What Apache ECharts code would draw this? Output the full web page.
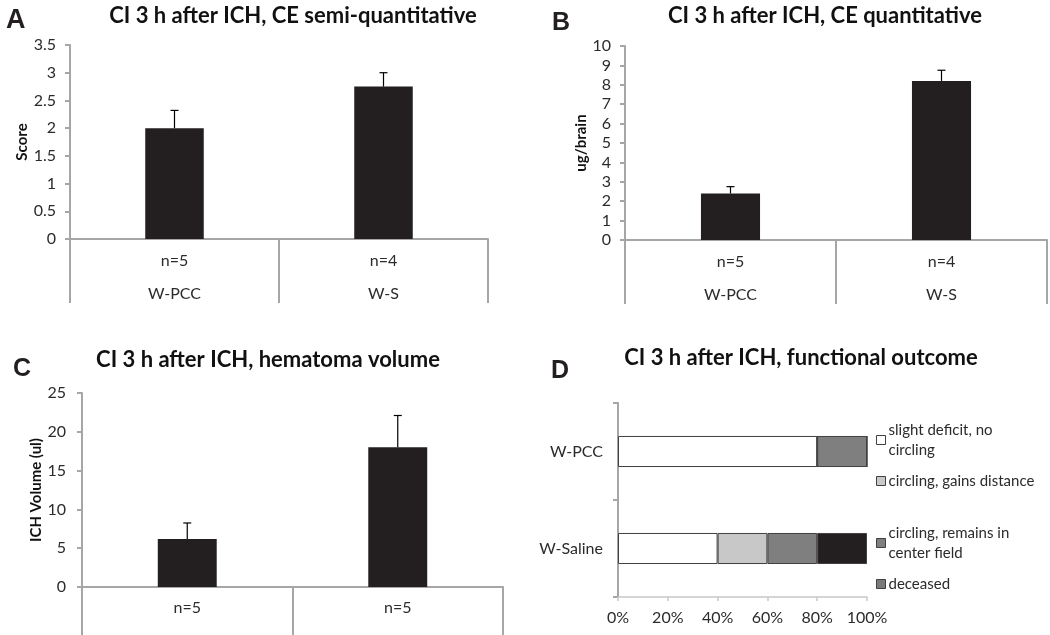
<!DOCTYPE html>
<html>
<head>
<meta charset="utf-8">
<script src="https://cdn.jsdelivr.net/npm/echarts@6/dist/echarts.min.js"></script>
<style>html,body{margin:0;padding:0;background:#fff}#c{width:1050px;height:635px}</style>
</head>
<body>
<div id="c"></div>
<script>
// ---- data ----
const groupsAB = ['W-PCC', 'W-S'];
const nAB_A = ['n=5', 'n=4'];
const nAB_B = ['n=5', 'n=4'];
const semiQuant = [2.0, 2.75];
const semiQuantErr = [0.32, 0.25];
const quant = [2.4, 8.2];
const quantErr = [0.35, 0.55];
const nC = ['n=5', 'n=5'];
const hemVol = [6.2, 18.0];
const hemVolErr = [2.05, 4.1];
const outcomeCats = ['W-PCC', 'W-Saline'];
const slightDeficit = [0.8, 0.4];
const gainsDistance = [0, 0.2];
const remainsCenter = [0.2, 0.2];
const deceased = [0, 0.2];
const yTicksA = [0, 0.5, 1, 1.5, 2, 2.5, 3, 3.5];
const yTicksB = [0, 1, 2, 3, 4, 5, 6, 7, 8, 9, 10];
const yTicksC = [0, 5, 10, 15, 20, 25];
const xTicksD = [0, 0.2, 0.4, 0.6, 0.8, 1.0];

const FONT = 'Lato';
const AX = '#a6a6a6';
const TXT = '#2b2b2b';
const BAR = '#231f20';

function errSeries(xi, yi, vals, errs) {
  return {
    type: 'custom', xAxisIndex: xi, yAxisIndex: yi, z: 5,
    data: vals.map((v, i) => [i, v, errs[i]]),
    encode: { x: 0, y: 1 },
    renderItem: function (params, api) {
      const x = api.value(0), v = api.value(1), e = api.value(2);
      const base = api.coord([x, v]);
      const top = api.coord([x, v + e]);
      return { type: 'group', children: [
        { type: 'line', shape: { x1: base[0], y1: base[1], x2: top[0], y2: top[1] }, style: { stroke: '#000', lineWidth: 1.2 } },
        { type: 'line', shape: { x1: top[0] - 4, y1: top[1], x2: top[0] + 4, y2: top[1] }, style: { stroke: '#000', lineWidth: 1.2 } }
      ]};
    }
  };
}

function catAxis(grid, cats, lh, margin) {
  return {
    type: 'category', gridIndex: grid, data: cats, boundaryGap: true,
    axisLine: { show: true, lineStyle: { color: AX, width: 2 } },
    axisTick: { show: true, length: grid === 2 ? 60 : 64, lineStyle: { color: AX, width: 2 } },
    axisLabel: { color: TXT, fontFamily: FONT, fontSize: 16, lineHeight: lh, margin: margin, interval: 0 }
  };
}
function valAxis(grid, max, interval, name, gap, margin, fmt) {
  return {
    type: 'value', gridIndex: grid, min: 0, max: max, interval: interval,
    name: name, nameLocation: 'middle', nameGap: gap,
    nameTextStyle: { fontFamily: FONT, fontWeight: 'bold', fontSize: 15, color: '#111' },
    splitLine: { show: false },
    axisLine: { show: true, lineStyle: { color: AX, width: 2 } },
    axisTick: { show: true, length: 5, lineStyle: { color: AX, width: 2 } },
    axisLabel: { color: TXT, fontFamily: FONT, fontSize: 16, margin: margin, formatter: fmt }
  };
}

const catsA = groupsAB.map((g, i) => nAB_A[i] + '\n' + g);
const catsB = groupsAB.map((g, i) => nAB_B[i] + '\n' + g);

const titleStyle = { fontFamily: FONT, fontWeight: 'bold', fontSize: 22, color: '#111' };
const letterStyle = { fontFamily: 'Liberation Sans', fontWeight: 'bold', fontSize: 25, color: '#231f20' };

const option = {
  backgroundColor: '#fff',
  animation: false,
  title: [
    { text: 'CI 3 h after ICH, CE semi-quantitative', left: 288, top: 0, textAlign: 'center', textStyle: titleStyle },
    { text: 'CI 3 h after ICH, CE quantitative', left: 820, top: 0, textAlign: 'center', textStyle: titleStyle },
    { text: 'CI 3 h after ICH, hematoma volume', left: 263, top: 344, textAlign: 'center', textStyle: titleStyle },
    { text: 'CI 3 h after ICH, functional outcome', left: 796, top: 342, textAlign: 'center', textStyle: titleStyle },
    { text: 'A', left: 1, top: 2, textStyle: Object.assign({}, letterStyle, { fontSize: 27 }) },
    { text: 'B', left: 547, top: 6, textStyle: letterStyle },
    { text: 'C', left: 8, top: 352, textStyle: letterStyle },
    { text: 'D', left: 546, top: 354, textStyle: letterStyle }
  ],
  grid: [
    { left: 70, top: 45, width: 418, height: 194 },
    { left: 625, top: 46, width: 422, height: 194 },
    { left: 82, top: 393, width: 421, height: 194 },
    { left: 618, top: 403, width: 249, height: 194 }
  ],
  xAxis: [
    catAxis(0, catsA, 33, 5),
    catAxis(1, catsB, 33, 5),
    catAxis(2, nC, 20, 11),
    {
      type: 'value', gridIndex: 3, min: 0, max: 1, interval: 0.2,
      splitLine: { show: false },
      axisLine: { show: true, lineStyle: { color: '#c8c8c8', width: 1.5 } },
      axisTick: { show: true, length: 4, lineStyle: { color: '#c8c8c8', width: 1.5 } },
      axisLabel: { color: TXT, fontFamily: FONT, fontSize: 16, margin: 13, formatter: v => Math.round(v * 100) + '%' }
    }
  ],
  yAxis: [
    valAxis(0, 3.5, 0.5, 'Score', 40, 14),
    valAxis(1, 10, 1, 'ug/brain', 36, 14),
    valAxis(2, 25, 5, 'ICH Volume (ul)', 36, 16),
    {
      type: 'category', gridIndex: 3, data: outcomeCats, inverse: true,
      axisLine: { show: true, lineStyle: { color: AX, width: 2 } },
      axisTick: { show: true, length: 5, lineStyle: { color: AX, width: 2 } },
      axisLabel: { color: TXT, fontFamily: FONT, fontSize: 16, margin: 15 }
    }
  ],
  legend: [
    { data: [{ name: 'slight deficit, no\ncircling', itemStyle: { color: '#fff', borderColor: '#404040', borderWidth: 1 } }], left: 871, top: 415 },
    { data: [{ name: 'circling, gains distance', itemStyle: { color: '#c8c8c8', borderColor: '#404040', borderWidth: 1 } }], left: 871, top: 466 },
    { data: [{ name: 'circling, remains in\ncenter field', itemStyle: { color: '#7f7f80', borderColor: '#404040', borderWidth: 1 } }], left: 871, top: 518 },
    { data: [{ name: 'deceased', itemStyle: { color: '#7a7a7a', borderColor: '#404040', borderWidth: 1 } }], left: 871, top: 569 }
  ].map(l => Object.assign(l, {
    orient: 'vertical', itemWidth: 9, itemHeight: 9, itemGap: 4, icon: 'rect', selectedMode: false,
    textStyle: { fontFamily: FONT, fontSize: 15, color: TXT, lineHeight: 20, padding: [0, 0, 0, -2] },
    align: 'left'
  })),
  series: [
    { type: 'bar', xAxisIndex: 0, yAxisIndex: 0, data: semiQuant, barWidth: '28%', itemStyle: { color: BAR } },
    errSeries(0, 0, semiQuant, semiQuantErr),
    { type: 'bar', xAxisIndex: 1, yAxisIndex: 1, data: quant, barWidth: '28%', itemStyle: { color: BAR } },
    errSeries(1, 1, quant, quantErr),
    { type: 'bar', xAxisIndex: 2, yAxisIndex: 2, data: hemVol, barWidth: '28%', itemStyle: { color: BAR } },
    errSeries(2, 2, hemVol, hemVolErr),
    { name: 'slight deficit, no\ncircling', type: 'bar', stack: 'd', xAxisIndex: 3, yAxisIndex: 3, data: slightDeficit, barWidth: '32%', itemStyle: { color: '#ffffff', borderColor: '#404040', borderWidth: 1 } },
    { name: 'circling, gains distance', type: 'bar', stack: 'd', xAxisIndex: 3, yAxisIndex: 3, data: gainsDistance, barWidth: '32%', itemStyle: { color: '#c8c8c8', borderColor: '#404040', borderWidth: 1 } },
    { name: 'circling, remains in\ncenter field', type: 'bar', stack: 'd', xAxisIndex: 3, yAxisIndex: 3, data: remainsCenter, barWidth: '32%', itemStyle: { color: '#7f7f80', borderColor: '#404040', borderWidth: 1 } },
    { name: 'deceased', type: 'bar', stack: 'd', xAxisIndex: 3, yAxisIndex: 3, data: deceased, barWidth: '32%', itemStyle: { color: '#231f20', borderColor: '#404040', borderWidth: 1 } }
  ]
};

const chart = echarts.init(document.getElementById('c'), null, { renderer: 'canvas' });
chart.setOption(option);
</script>
</body>
</html>
